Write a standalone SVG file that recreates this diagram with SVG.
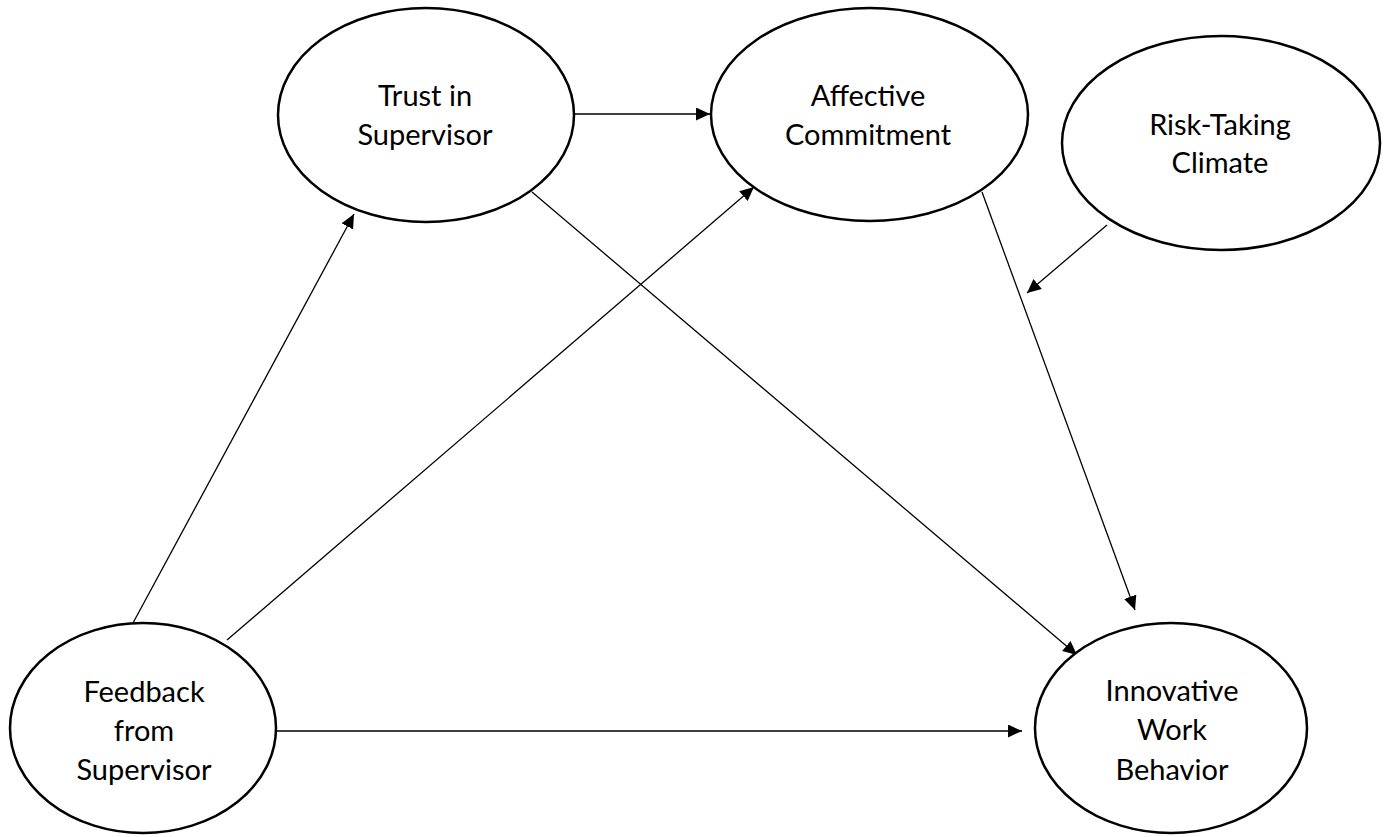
<svg xmlns="http://www.w3.org/2000/svg" width="1389" height="837" viewBox="0 0 1389 837">
<defs>
<style>
.node ellipse{fill:#fff;stroke:#000;stroke-width:2.5}
.node text{font-family:Lato,"Open Sans","Liberation Sans",sans-serif;font-size:29px;fill:#000;text-anchor:middle}
.edge{stroke:#000;stroke-width:1.3;fill:none;marker-end:url(#arr)}
</style>
<marker id="arr" markerUnits="userSpaceOnUse" markerWidth="15" markerHeight="14" refX="14" refY="6.5" orient="auto">
<path d="M0,0 L14,6.5 L0,13 z" fill="#000"/>
</marker>
</defs>
<rect width="1389" height="837" fill="#fff"/>
<g id="connectors">
<line class="edge" x1="133" y1="623" x2="354" y2="214"/>
<line class="edge" x1="227" y1="640" x2="754" y2="187"/>
<line class="edge" x1="277" y1="731" x2="1022" y2="731"/>
<line class="edge" x1="574" y1="114" x2="710" y2="114"/>
<line class="edge" x1="532" y1="192" x2="1077" y2="655"/>
<line class="edge" x1="982" y1="192" x2="1135" y2="610"/>
<line class="edge" x1="1107" y1="225" x2="1027" y2="293"/>
</g>
<g id="trust" class="node">
<ellipse cx="426" cy="115" rx="148" ry="107"/>
<text x="425" y="106">Trust in</text>
<text x="425" y="145">Supervisor</text>
</g>
<g id="affective" class="node">
<ellipse cx="869.5" cy="114.5" rx="158.5" ry="106.5"/>
<text x="868" y="106">Affective</text>
<text x="868" y="145">Commitment</text>
</g>
<g id="risk" class="node">
<ellipse cx="1221" cy="143" rx="159" ry="107"/>
<text x="1220" y="135">Risk-Taking</text>
<text x="1220" y="173">Climate</text>
</g>
<g id="feedback" class="node">
<ellipse cx="143" cy="728" rx="133" ry="105"/>
<text x="144" y="702">Feedback</text>
<text x="144" y="741">from</text>
<text x="144" y="780">Supervisor</text>
</g>
<g id="innovative" class="node">
<ellipse cx="1171" cy="728" rx="136" ry="105"/>
<text x="1172" y="701">Innovative</text>
<text x="1172" y="740">Work</text>
<text x="1172" y="780">Behavior</text>
</g>
</svg>
